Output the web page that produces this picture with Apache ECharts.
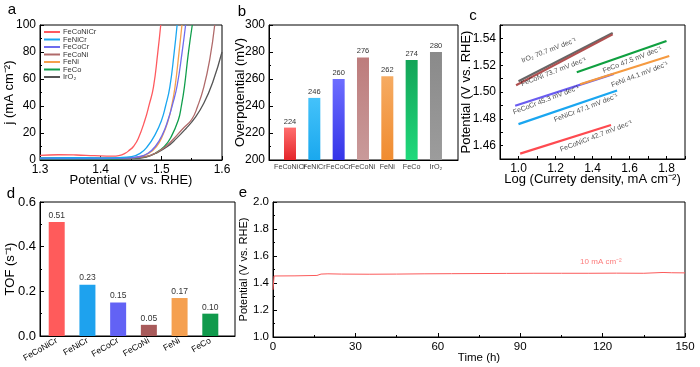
<!DOCTYPE html>
<html><head><meta charset="utf-8">
<script src="https://cdn.jsdelivr.net/npm/echarts@6/dist/echarts.min.js"></script>
<style>html,body{margin:0;padding:0;background:#fff}#c{width:700px;height:367px}</style>
</head><body><div id="c"></div>
<script>
// ---------- DATA ----------
const lsvNames = ['FeCoNiCr','FeNiCr','FeCoCr','FeCoNi','FeNi','FeCo','IrO₂'];
// panel a: [potential V, j mA cm-2]
const lsvFeCoNiCr = [[1.3,3.5],[1.33,3.9],[1.36,3.7],[1.39,3.2],[1.42,2.9],[1.43,3.3],[1.44,4.9],[1.448,7.5],[1.454,10],[1.462,16],[1.473,29.6],[1.48,41],[1.487,54],[1.494,79],[1.499,100]];
const lsvFeNiCr = [[1.3,1.6],[1.35,1.7],[1.4,1.6],[1.43,1.8],[1.451,2.5],[1.465,4.9],[1.477,10],[1.49,19],[1.5005,29.6],[1.507,40],[1.514,54],[1.521,79],[1.526,100]];
const lsvFeCoCr = [[1.3,1.0],[1.35,1.1],[1.4,1.1],[1.44,1.4],[1.465,2.6],[1.478,5],[1.49,10],[1.502,19],[1.511,29.6],[1.519,42],[1.526,55],[1.534,79],[1.54,100]];
const lsvFeCoNi = [[1.3,1.5],[1.35,1.5],[1.4,1.4],[1.45,1.6],[1.475,2.6],[1.49,5],[1.507,10],[1.52,15.5],[1.535,23],[1.55,30],[1.56,40],[1.57,54],[1.58,75],[1.588,100]];
const lsvFeNi = [[1.3,1.2],[1.35,1.3],[1.4,1.3],[1.44,1.5],[1.465,2.5],[1.479,4.9],[1.492,10],[1.502,18],[1.5115,29.6],[1.517,40],[1.5225,54],[1.529,79],[1.534,100]];
const lsvFeCo = [[1.3,0.9],[1.35,0.9],[1.4,0.9],[1.45,1.3],[1.475,2.5],[1.49,5],[1.505,10],[1.516,17],[1.528,29.6],[1.533,40],[1.538,54],[1.5445,79],[1.551,100]];
const lsvIrO2 = [[1.3,0.5],[1.35,0.5],[1.4,0.5],[1.45,0.9],[1.475,2.2],[1.49,4.8],[1.51,10],[1.525,16],[1.54,23],[1.555,31],[1.57,42],[1.585,58],[1.6,80]];

// panel b
const overpotCats = ['FeCoNiCr','FeNiCr','FeCoCr','FeCoNi','FeNi','FeCo','IrO₂'];
const overpotValues = [224,246,260,276,262,274,280];

// panel c: Tafel lines [log j, potential]
const tafelIrO2 = [[1.0,1.508],[1.509,1.544]];
const tafelFeCoNi = [[0.987,1.505],[1.509,1.543]];
const tafelFeCo = [[1.315,1.5147],[1.8,1.538]];
const tafelFeNi = [[1.333,1.5058],[1.815,1.5269]];
const tafelFeCoCr = [[0.982,1.4897],[1.515,1.5135]];
const tafelFeNiCr = [[1.0,1.476],[1.533,1.5011]];
const tafelFeCoNiCr = [[1.009,1.454],[1.5,1.4754]];
const tafelLabels = ['IrO₂ 70.7 mV dec⁻¹','FeCoNi 73.7 mV dec⁻¹','FeCo 47.5 mV dec⁻¹','FeNi 44.1 mV dec⁻¹','FeCoCr 45.3 mV dec⁻¹','FeNiCr 47.1 mV dec⁻¹','FeCoNiCr 42.7 mV dec⁻¹'];
const tafelLabelAt = [[1.164,1.531],[1.19,1.515],[1.615,1.524],[1.655,1.513],[1.149,1.494],[1.364,1.488],[1.42,1.467]];

// panel d
const tofCats = ['FeCoNiCr','FeNiCr','FeCoCr','FeCoNi','FeNi','FeCo'];
const tofValues = [0.51,0.23,0.15,0.05,0.17,0.10];

// panel e
const stabTime = [0,0.4,8,16,17.5,20,25,35,45,55,65,75,85,95,105,115,125,135,142,145,150];
const stabPotential = [1.35,1.452,1.453,1.456,1.466,1.468,1.466,1.465,1.466,1.468,1.469,1.470,1.471,1.472,1.472,1.472,1.473,1.472,1.478,1.476,1.475];
const stabNote = '10 mA cm⁻²';
const stabNoteAt = [119.4,1.556];

// ---------- STYLE ----------
const FONT = "'Liberation Sans',Arial,sans-serif";
const lsvColors = ['#fe5a5f','#1aa6f0','#6e6cee','#b06a6a','#f5a04c','#109e4c','#555555'];
const barGrad = [['#ff6e6e','#e4262a'],['#44c2fa','#1aa8ee'],['#6d6dff','#3434e8'],['#bd7c7c','#c99a9a'],['#f6ab62','#f08c30'],['#14a458','#1fd97b'],['#8a8a8a','#9c9c9c']];
const nameShift = [-7,0,0,0,0,0,0];
const tafelColors = ['#666666','#b05050','#10a040','#f59a40','#6a5cf0','#1aa6f0','#fe4a50'];
const tofColors = ['#ff5b5b','#1ea2ee','#6262f5','#a85a5a','#f5a050','#109a4c'];

const chart = echarts.init(document.getElementById('c'), null, {renderer:'canvas'});

function lab(extra){ return Object.assign({color:'#000',fontFamily:FONT,fontSize:12,margin:4}, extra||{}); }
function axisBase(extra){
  return Object.assign({
    axisLine:{show:true,onZero:false,lineStyle:{color:'#000',width:1}},
    axisTick:{show:true,inside:true,length:4,lineStyle:{color:'#000'}},
    minorTick:{show:true,splitNumber:2,length:2,lineStyle:{color:'#000'}},
    splitLine:{show:false},
    axisLabel:lab(),
    nameTextStyle:{color:'#000',fontFamily:FONT,fontSize:13},
    nameLocation:'middle',
    nameMoveOverlap:false
  }, extra);
}
const frame = {show:true,borderColor:'#000',borderWidth:1,backgroundColor:'transparent'};

const grids = [
  Object.assign({left:40,top:25,width:182,height:135},frame),
  Object.assign({left:269,top:25,width:189,height:135},frame),
  Object.assign({left:500,top:25,width:185,height:134},frame),
  Object.assign({left:40,top:202,width:195,height:134},frame),
  Object.assign({left:273,top:202,width:412,height:135},frame)
];

const xAxes = [
  axisBase({gridIndex:0,type:'value',min:1.3,max:1.6,interval:0.1,name:'Potential (V vs. RHE)',nameGap:14,
    axisLabel:lab({formatter:v=>v.toFixed(1)})}),
  axisBase({gridIndex:1,type:'value',min:0.137,max:7.905,
    axisTick:{show:false},minorTick:{show:false},axisLabel:{show:false}}),
  axisBase({gridIndex:2,type:'value',min:0.9,max:1.9,interval:0.1,name:'Log (Currety density, mA cm⁻²)',nameGap:14,minorTick:{show:false},
    axisTick:{show:true,inside:true,length:3,lineStyle:{color:'#000'}},
    axisLabel:lab({formatter:v=>(Math.round(v*10)%2===0?v.toFixed(1):'')})}),
  axisBase({gridIndex:3,type:'value',min:0.456,max:6.804,
    axisTick:{show:false},minorTick:{show:false},
    axisLabel:lab({fontSize:8.5,margin:4,rotate:30,hideOverlap:false,showMinLabel:true,showMaxLabel:true,customValues:[1,2,3,4,5,6],formatter:v=>tofCats[Math.round(v)-1]})}),
  axisBase({gridIndex:4,type:'value',min:0,max:150,interval:30,name:'Time (h)',nameGap:15,
    nameTextStyle:{color:'#000',fontFamily:FONT,fontSize:11.5},
    axisLabel:lab({fontSize:11.5})})
];
const yAxes = [
  axisBase({gridIndex:0,type:'value',min:0,max:100,interval:20,name:'j (mA cm⁻²)',nameGap:24}),
  axisBase({gridIndex:1,type:'value',min:200,max:300,interval:20,name:'Overpotential (mV)',nameGap:22}),
  axisBase({gridIndex:2,type:'value',min:1.45,max:1.55,interval:0.01,name:'Potential (V vs. RHE)',nameGap:27,minorTick:{show:false},
    axisTick:{show:true,inside:true,length:3,lineStyle:{color:'#000'}},
    axisLabel:lab({formatter:v=>(Math.round(v*100)%2===0?v.toFixed(2):'')})}),
  axisBase({gridIndex:3,type:'value',min:0,max:0.6,interval:0.2,name:'TOF (s⁻¹)',nameGap:23,
    axisLabel:lab({fontSize:13,formatter:v=>v.toFixed(1)})}),
  axisBase({gridIndex:4,type:'value',min:1.0,max:2.0,interval:0.2,name:'Potential (V vs. RHE)',nameGap:24,
    nameTextStyle:{color:'#000',fontFamily:FONT,fontSize:11},
    axisLabel:lab({fontSize:11.5,formatter:v=>v.toFixed(1)})})
];

const lsvData = [lsvFeCoNiCr,lsvFeNiCr,lsvFeCoCr,lsvFeCoNi,lsvFeNi,lsvFeCo,lsvIrO2];
const series = [];
lsvData.forEach((d,i)=>{
  series.push({name:lsvNames[i],type:'line',xAxisIndex:0,yAxisIndex:0,data:d,showSymbol:false,symbol:'none',symbolSize:0,
    smooth:0.5,lineStyle:{color:lsvColors[i],width:1.3},itemStyle:{color:lsvColors[i]},z:10-i});
});
series.push({name:'overpot',type:'bar',xAxisIndex:1,yAxisIndex:1,barWidth:12,
  data:overpotValues.map((v,i)=>({value:[i+1,v],itemStyle:{color:new echarts.graphic.LinearGradient(0,0,0,1,[{offset:0,color:barGrad[i][0]},{offset:1,color:barGrad[i][1]}])}})),
  label:{show:true,position:'top',distance:2,fontFamily:FONT,fontSize:7.5,color:'#333',formatter:p=>p.value[1]}});
// category names of panel b, anchored on the x axis (y = axis min)
series.push({name:'overpotNames',type:'scatter',xAxisIndex:1,yAxisIndex:1,symbolSize:0,silent:true,
  data:overpotCats.map((c,i)=>({value:[i+1,200],label:{formatter:c,offset:[nameShift[i],0]}})),
  label:{show:true,position:'bottom',distance:4,fontFamily:FONT,fontSize:7.2,color:'#000'},
  labelLayout:{hideOverlap:false}});
const tafelData=[tafelIrO2,tafelFeCoNi,tafelFeCo,tafelFeNi,tafelFeCoCr,tafelFeNiCr,tafelFeCoNiCr];
tafelData.forEach((d,i)=>{
  series.push({name:'tafel'+i,type:'line',xAxisIndex:2,yAxisIndex:2,data:d,showSymbol:false,symbol:'none',
    lineStyle:{color:tafelColors[i],width:2.2},z:i===3?6:5});
});
series.push({name:'tafelText',type:'scatter',xAxisIndex:2,yAxisIndex:2,symbolSize:0,z:20,silent:true,
  data:tafelLabelAt.map((p,i)=>({value:p,label:{formatter:tafelLabels[i]}})),
  label:{show:true,position:'inside',rotate:21,fontFamily:FONT,fontSize:7,color:'#222'}});
series.push({name:'tof',type:'bar',xAxisIndex:3,yAxisIndex:3,barWidth:16,
  data:tofValues.map((v,i)=>({value:[i+1,v],itemStyle:{color:tofColors[i]}})),
  label:{show:true,position:'top',distance:2,fontFamily:FONT,fontSize:8.5,color:'#333',formatter:p=>p.value[1].toFixed(2)}});
series.push({name:'stab',type:'line',xAxisIndex:4,yAxisIndex:4,data:stabTime.map((t,i)=>[t,stabPotential[i]]),
  showSymbol:false,symbol:'none',lineStyle:{color:'#fb5a5a',width:1}});
series.push({name:'stabNote',type:'scatter',xAxisIndex:4,yAxisIndex:4,symbolSize:0,silent:true,
  data:[{value:stabNoteAt}],label:{show:true,position:'inside',formatter:stabNote,fontFamily:FONT,fontSize:8,color:'#fb5a5a'}});

const letters = [['a',12,10],['b',242,12],['c',473,16],['d',11,194],['e',243,193]];
chart.setOption({
  animation:false,
  textStyle:{fontFamily:FONT},
  grid:grids, xAxis:xAxes, yAxis:yAxes, series:series,
  legend:{data:lsvNames,orient:'vertical',left:44,top:28,padding:0,itemGap:-0.5,itemWidth:16,itemHeight:2,icon:'rect',
    textStyle:{fontFamily:FONT,fontSize:7.5,color:'#333',padding:[0,0,0,-2]}},
  graphic: letters.map(l=>({type:'text',x:l[1],y:l[2],style:{text:l[0],fontFamily:FONT,fontSize:15,fill:'#000',align:'center',verticalAlign:'middle'}}))
});
</script></body></html>
